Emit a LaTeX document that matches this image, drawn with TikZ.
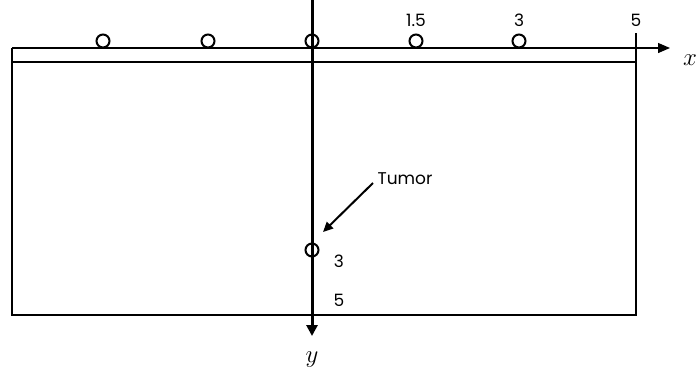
\documentclass[tikz,border=0pt]{standalone}
\usepackage{fontspec}
\setsansfont{Poppins}
\usetikzlibrary{arrows.meta}
\begin{document}
\begin{tikzpicture}[x=1pt,y=-1pt,
  frame/.style={draw=black,line width=1.3pt},
  axisline/.style={draw=black,line width=3pt},
  sensor/.style={circle,draw=black,line width=2pt,minimum size=13pt,inner sep=0pt,fill=none},
  lbl/.style={font=\sffamily\fontsize{17}{19}\selectfont,inner sep=0pt},
  var/.style={font=\fontsize{24}{26}\selectfont,inner sep=0pt}]
\useasboundingbox (0,0) rectangle (696,383);
% frame
\coordinate (tl) at (12,48);
\coordinate (tr) at (636,48);
\coordinate (br) at (636,315);
\coordinate (bl) at (12,315);
\draw[frame] (tr) -- (br) -- (bl) -- (tl);
\coordinate (ml) at (12,62);
\coordinate (mr) at (636,62);
\draw[frame] (ml) -- (mr);
\coordinate (tick) at (636,33);
\draw[frame] (tick) -- (tr);
% x axis
\coordinate (xa) at (12,48);
\coordinate (xb) at (670,48);
\draw[frame,-{Triangle[length=12pt,width=10pt]}] (xa) -- (xb);
\node[var] (xl) at (690,60) {$x$};
% y axis
\coordinate (ya) at (312,0);
\coordinate (yb) at (312,336);
\draw[axisline,-{Triangle[length=11pt,width=11pt]}] (ya) -- (yb);
\node[var] (yl) at (312,360) {$y$};
% sensors
\node[sensor] (s1) at (103,41) {};
\node[sensor] (s2) at (208,41) {};
\node[sensor] (s3) at (312,41) {};
\node[sensor] (s4) at (416,41) {};
\node[sensor] (s5) at (519,41) {};
\node[sensor] (tum) at (312,250) {};
% labels
\node[lbl] (l15) at (416,20) {1.5};
\node[lbl] (l3) at (519,20) {3};
\node[lbl] (l5) at (636,20) {5};
\node[lbl] (ly3) at (339,261) {3};
\node[lbl] (ly5) at (339,300) {5};
\node[lbl] (tlab) at (405,179) {Tumor};
\coordinate (ta) at (373,183);
\coordinate (tb) at (323,232);
\draw[line width=2pt,-{Triangle[length=10pt,width=9pt]}] (ta) -- (tb);
\end{tikzpicture}
\end{document}
